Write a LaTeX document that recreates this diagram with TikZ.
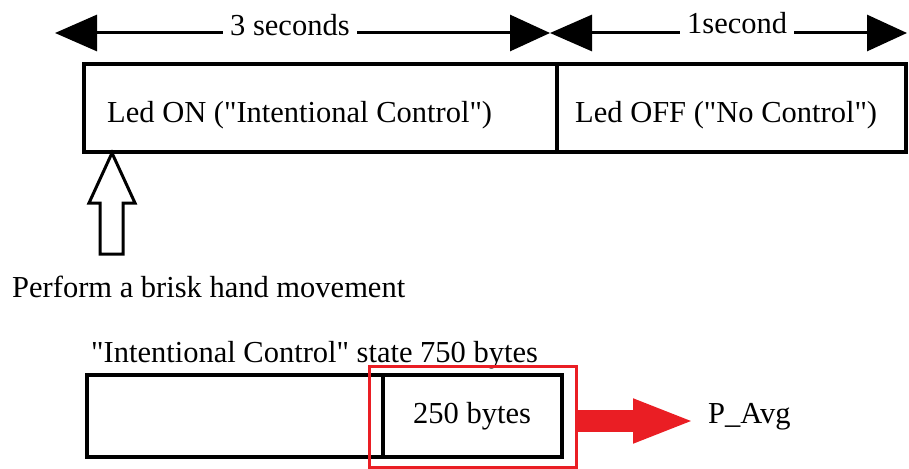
\documentclass[tikz,border=0pt]{standalone}
\usepackage{fontspec}
\setmainfont{Liberation Serif}
\usetikzlibrary{arrows.meta}
\definecolor{markRed}{RGB}{234,30,36}

\begin{document}
\begin{tikzpicture}[x=1pt, y=-1pt,
    dimline/.style={line width=3pt, {Triangle[length=42pt,width=36pt]}-{Triangle[length=40pt,width=36pt]}},
    boxline/.style={line width=3.5pt},
    txt/.style={font=\fontsize{30.5}{34}\selectfont, inner sep=0pt, anchor=base west},
    gaptxt/.style={txt, fill=white, inner xsep=7pt, inner ysep=3pt},
    redframe/.style={draw=markRed, line width=3pt, minimum width=207pt, minimum height=101pt, inner sep=0pt},
    redarrow/.style={draw=markRed, line width=22pt, -{Triangle[length=62pt,width=40pt]}}]
    \useasboundingbox (0,0) rectangle (909,468);

    % draw time arrows
    \coordinate (onL) at (55,33);
    \coordinate (onR) at (550,33);
    \coordinate (offL) at (550,33);
    \coordinate (offR) at (907,33);
    \draw[dimline] (onL) -- (onR);
    \draw[dimline] (offL) -- (offR);
    \node[gaptxt] (onTime) at (223,36) {3 seconds};
    \node[gaptxt] (offTime) at (680,34) {1second};

    % draw led states
    \draw[boxline] (84,64) rectangle (906,152);
    \draw[boxline] (557,64) -- (557,152);
    \node[txt] (ledOn) at (107,122) {Led ON (\textquotedbl Intentional Control\textquotedbl)};
    \node[txt] (ledOff) at (575,122) {Led OFF (\textquotedbl No Control\textquotedbl)};

    % draw hand movement trigger
    \draw[line width=3pt, line join=miter] (112,153) -- (135,203) -- (123,203) -- (123,254)
        -- (100,254) -- (100,203) -- (89,203) -- cycle;
    \node[txt] (handMove) at (12,297) {Perform a brisk hand movement};

    % draw byte buffer
    \node[txt] (stateBytes) at (91,362) {\textquotedbl Intentional Control\textquotedbl{} state 750 bytes};
    \draw[boxline] (87,375) rectangle (562,457);
    \draw[boxline] (383,375) -- (383,457);
    \node[txt] (lastBytes) at (413,423) {250 bytes};

    % draw averaging window
    \node[redframe] (window) at (472.5,416.5) {};
    \node[txt] (pAvg) at (708,423) {P\_Avg};
    \coordinate (avgTip) at (695,421);
    \draw[redarrow] (window.east |- avgTip) -- (avgTip);
\end{tikzpicture}
\end{document}
